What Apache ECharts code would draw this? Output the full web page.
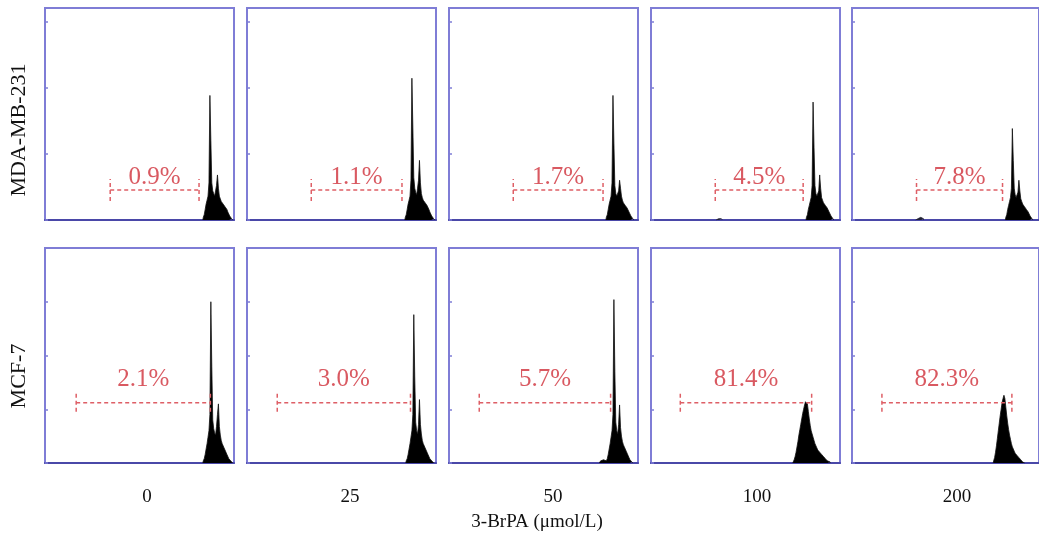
<!DOCTYPE html>
<html>
<head>
<meta charset="utf-8">
<script src="https://cdn.jsdelivr.net/npm/echarts@6/dist/echarts.min.js"></script>
<style>
html,body{margin:0;padding:0;background:#fff;}
#c{width:1039px;height:537px;}
</style>
</head>
<body>
<div id="c"></div>
<script>
// ---------- DATA ----------
const doses = ['0', '25', '50', '100', '200'];
const cellLines = ['MDA-MB-231', 'MCF-7'];
const xTitle = '3-BrPA (μmol/L)';
const apoptosisPct = [
  ['0.9%', '1.1%', '1.7%', '4.5%', '7.8%'],
  ['2.1%', '3.0%', '5.7%', '81.4%', '82.3%']
];
// gate (marker) bounds, in channel units
const gateStart = [[69, 68, 68, 68, 69], [33, 32, 32, 31, 32]];
const gateEnd = [[163, 164, 163, 161, 161], [175, 173, 171, 170, 171]];
const gateLevel = [22.6, 56];      // count level of the dashed gate line
const gateCap = [8.3, 8.4];        // half height of the gate end caps (counts)
const yMaxRow = [160, 200];
const yTickStep = [50, 50];

// histogram counts per panel (channel start + counts)
const mdaStart = [168, 168, 167, 165, 165];
const mda0 = [2, 4, 8, 12, 15, 18, 28, 94, 60, 28, 22, 20, 18, 22, 26, 34, 24, 18, 16, 14, 13, 12, 11, 10, 9, 8, 6, 5, 3, 2, 1];
const mda25 = [2, 4, 8, 12, 15, 18, 30, 107, 70, 32, 24, 21, 19, 24, 30, 45, 28, 20, 17, 15, 14, 13, 12, 11, 10, 8, 6, 5, 3, 2, 1];
const mda50 = [2, 4, 8, 12, 15, 18, 28, 94, 58, 26, 20, 18, 17, 22, 30, 24, 18, 15, 13, 12, 11, 10, 9, 8, 6, 5, 3, 2, 1];
const mda100 = [2, 4, 8, 11, 14, 17, 26, 89, 55, 26, 20, 18, 17, 22, 34, 24, 17, 15, 13, 12, 11, 10, 9, 8, 6, 5, 3, 2, 1];
const mda200 = [2, 4, 8, 11, 14, 17, 24, 69, 45, 24, 19, 17, 16, 21, 30, 22, 16, 14, 12, 11, 10, 9, 8, 7, 6, 5, 3, 2, 1];
const mcfStart = [168, 169, 160, 151, 152];
const mcf0 = [2, 4, 8, 13, 18, 24, 30, 45, 150, 90, 40, 32, 28, 26, 34, 45, 55, 34, 26, 21, 18, 16, 14, 12, 10, 8, 6, 4, 3, 2, 1];
const mcf25 = [2, 4, 8, 13, 18, 24, 30, 45, 138, 80, 38, 30, 27, 36, 59, 36, 27, 21, 18, 16, 14, 12, 10, 8, 6, 4, 3, 2, 1];
const mcf50 = [1, 2, 2, 3, 2, 2, 2, 2, 4, 8, 13, 18, 24, 30, 45, 152, 85, 38, 30, 27, 36, 54, 33, 25, 20, 17, 15, 13, 11, 9, 7, 5, 3, 2, 1];
const mcf100 = [1, 3, 6, 10, 15, 20, 26, 31, 36, 41, 46, 50, 54, 57, 58, 55, 48, 41, 35, 30, 27, 24, 21, 18, 16, 14, 12, 11, 10, 9, 8, 7, 6, 5, 4, 3, 2, 1, 1];
const mcf200 = [2, 5, 10, 16, 23, 30, 37, 44, 50, 56, 60, 63, 60, 52, 44, 37, 31, 26, 22, 18, 15, 13, 11, 9, 8, 7, 6, 5, 4, 3, 2, 1, 1];
// small sub-G1 bumps
const subStart = [[null, null, null, 70, 69], [null, null, null, null, null]];
const mda100Sub = [1, 1, 2, 2, 1, 1];
const mda200Sub = [1, 1, 2, 2, 2, 1, 1, 1];

const histCounts = [[mda0, mda25, mda50, mda100, mda200], [mcf0, mcf25, mcf50, mcf100, mcf200]];
const histStart = [mdaStart, mcfStart];
const subCounts = [[null, null, null, mda100Sub, mda200Sub], [null, null, null, null, null]];

// ---------- LAYOUT ----------
const panelLeft = [45, 247, 449, 651, 852];
const panelW = 189;
const rowTop = [8, 248];
const rowH = [212, 215];
const labelLift = [13, 23];
const doseLabelX = [147, 350, 553, 757, 957];
const rowLabelY = [130, 376];

const BORDER = '#7f7dd6';
const AXIS = '#4a48a8';
const GATE = '#de5f66';
const PCT = '#cf3039';
const SERIF = '"Liberation Serif","DejaVu Serif",serif';

function toPairs(start, counts) {
  const out = [[start - 1, 0]];
  counts.forEach((v, i) => out.push([start + i, v]));
  out.push([start + counts.length, 0]);
  return out;
}

const grid = [], xAxis = [], yAxis = [], series = [];
for (let r = 0; r < 2; r++) {
  for (let c = 0; c < 5; c++) {
    const idx = r * 5 + c;
    grid.push({
      left: panelLeft[c], top: rowTop[r], width: panelW, height: rowH[r],
      show: true, borderColor: BORDER, borderWidth: 2, backgroundColor: '#fff'
    });
    xAxis.push({
      gridIndex: idx, type: 'value', min: 0, max: 200,
      axisLine: { show: true, lineStyle: { color: AXIS, width: 2 } },
      axisTick: { show: false }, axisLabel: { show: false }, splitLine: { show: false }
    });
    yAxis.push({
      gridIndex: idx, type: 'value', min: 0, max: yMaxRow[r], interval: yTickStep[r],
      axisLine: { show: false },
      axisTick: { show: true, inside: true, length: 3, lineStyle: { color: BORDER, width: 1.5 } },
      axisLabel: { show: false }, splitLine: { show: false }
    });
    const common = { xAxisIndex: idx, yAxisIndex: idx, silent: true, animation: false };
    series.push(Object.assign({
      type: 'line', step: 'middle', symbol: 'none', z: 3,
      data: toPairs(histStart[r][c], histCounts[r][c]),
      lineStyle: { color: '#111', width: 0.8 },
      areaStyle: { color: '#000', opacity: 1 }
    }, common));
    if (subCounts[r][c]) {
      series.push(Object.assign({
        type: 'line', step: 'middle', symbol: 'none', z: 3,
        data: toPairs(subStart[r][c], subCounts[r][c]),
        lineStyle: { color: '#223', width: 0.8 },
        areaStyle: { color: '#223', opacity: 1 }
      }, common));
    }
    const gs = gateStart[r][c], ge = gateEnd[r][c], lv = gateLevel[r], cp = gateCap[r];
    const gateStyle = { color: GATE, width: 1.5, type: [4, 3] };
    series.push(Object.assign({ type: 'line', symbol: 'none', z: 4, data: [[gs, lv], [ge, lv]], lineStyle: gateStyle }, common));
    series.push(Object.assign({ type: 'line', symbol: 'none', z: 4, data: [[gs, lv - cp], [gs, lv + cp]], lineStyle: gateStyle }, common));
    series.push(Object.assign({ type: 'line', symbol: 'none', z: 4, data: [[ge, lv - cp], [ge, lv + cp]], lineStyle: gateStyle }, common));
    series.push(Object.assign({
      type: 'scatter', symbolSize: 1, z: 5,
      itemStyle: { color: 'transparent' },
      data: [[(gs + ge) / 2, lv]],
      label: {
        show: true, position: 'inside', offset: [0, -labelLift[r]],
        formatter: apoptosisPct[r][c], color: PCT, fontFamily: SERIF, fontSize: 25
      }
    }, common));
  }
}

const graphic = [];
cellLines.forEach((name, r) => {
  graphic.push({
    type: 'text', x: 19, y: rowLabelY[r], rotation: Math.PI / 2,
    style: { text: name, fontFamily: SERIF, fontSize: 22, fill: '#111', align: 'center', verticalAlign: 'middle' }
  });
});
doses.forEach((d, c) => {
  graphic.push({
    type: 'text', x: doseLabelX[c], y: 497,
    style: { text: d, fontFamily: SERIF, fontSize: 19, fill: '#111', align: 'center', verticalAlign: 'middle' }
  });
});
graphic.push({
  type: 'text', x: 537, y: 522,
  style: { text: xTitle, fontFamily: SERIF, fontSize: 19, fill: '#111', align: 'center', verticalAlign: 'middle' }
});

const chart = echarts.init(document.getElementById('c'), null, { renderer: 'canvas' });
chart.setOption({ backgroundColor: '#fff', animation: false, grid, xAxis, yAxis, series, graphic });
</script>
</body>
</html>
